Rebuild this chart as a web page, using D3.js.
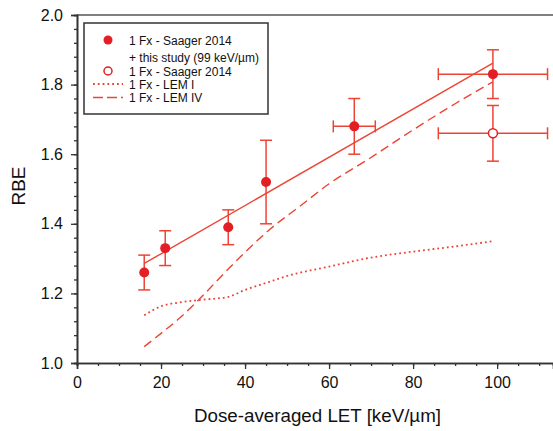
<!DOCTYPE html>
<html>
<head>
<meta charset="utf-8">
<script src="https://cdn.jsdelivr.net/npm/d3@7"></script>
<style>
  body { margin: 0; background: #fff; }
  svg { display: block; font-family: "Liberation Sans", Arial, sans-serif; }
</style>
</head>
<body>
<svg width="553" height="431"></svg>
<script>
// measured RBE points (filled: Saager 2014 + this study)
var filled = [
  {x: 16, y: 1.26, ylo: 1.21, yhi: 1.31},
  {x: 21, y: 1.33, ylo: 1.28, yhi: 1.38},
  {x: 36, y: 1.39, ylo: 1.34, yhi: 1.44},
  {x: 45, y: 1.52, ylo: 1.40, yhi: 1.64},
  {x: 66, y: 1.68, ylo: 1.60, yhi: 1.76, xlo: 61, xhi: 71},
  {x: 99, y: 1.83, ylo: 1.76, yhi: 1.90, xlo: 86, xhi: 112}
];
var open = [
  {x: 99, y: 1.66, ylo: 1.58, yhi: 1.74, xlo: 86, xhi: 112}
];
// linear fit through filled points
var fitLine = [[16, 1.286], [99, 1.862]];
// LEM I (dotted)
var lem1 = [[16, 1.137], [20, 1.163], [25, 1.175], [30, 1.182], [36, 1.19], [40, 1.21],
            [45, 1.23], [50, 1.25], [60, 1.277], [70, 1.303], [80, 1.32], [90, 1.335], [99, 1.35]];
// LEM IV (dashed)
var lem4 = [[16, 1.047], [20, 1.085], [24.5, 1.13], [28.5, 1.176], [36, 1.27], [41, 1.33],
            [46, 1.385], [53, 1.45], [60, 1.515], [69, 1.583], [80, 1.67], [90, 1.745], [99, 1.808]];

var xTicks = [0, 20, 40, 60, 80, 100];
var yTicks = [1.0, 1.2, 1.4, 1.6, 1.8, 2.0];

var svg = d3.select("svg");
var margin = {left: 77, top: 15};
var w = 476, h = 348;

var x = d3.scaleLinear().domain([0, 113.3]).range([margin.left, margin.left + w]);
var y = d3.scaleLinear().domain([1.0, 2.0]).range([margin.top + h, margin.top]);

var axisCol = "#333";
var red = "#ec4434";
var ptRed = "#e31e24";

// top frame
svg.append("line")
  .attr("x1", x(0)).attr("x2", margin.left + w)
  .attr("y1", y(2)).attr("y2", y(2))
  .attr("stroke", "#555").attr("stroke-width", 1.6);

// x axis
var xMinor = d3.range(0, 114, 5);
var xAxis = svg.append("g").attr("transform", "translate(0," + y(1) + ")");
xAxis.append("g").call(d3.axisBottom(x).tickValues(xMinor).tickSize(3).tickFormat(""));
xAxis.append("g").call(d3.axisBottom(x).tickValues(xTicks).tickSize(6).tickPadding(8).tickFormat(d3.format("d")));

// y axis
var yMinor = d3.range(1.0, 2.001, 0.04);
var yAxis = svg.append("g").attr("transform", "translate(" + x(0) + ",0)");
yAxis.append("g").call(d3.axisLeft(y).tickValues(yMinor).tickSize(3).tickFormat(""));
yAxis.append("g").call(d3.axisLeft(y).tickValues(yTicks).tickSize(6).tickPadding(8).tickFormat(d3.format(".1f")));

svg.selectAll(".domain").attr("stroke", axisCol).attr("stroke-width", 1.6);
svg.selectAll(".tick line").attr("stroke", axisCol).attr("stroke-width", 1.3);
svg.selectAll(".tick text").attr("font-size", 16).attr("fill", "#111")
  .attr("font-family", "Liberation Sans, Arial, sans-serif");

// axis titles
svg.append("text")
  .attr("x", 194).attr("y", 422)
  .attr("font-size", 17.5).attr("fill", "#111")
  .attr("textLength", 247).attr("lengthAdjust", "spacingAndGlyphs")
  .text("Dose-averaged LET [keV/µm]");
svg.append("text")
  .attr("transform", "translate(25,186) rotate(-90)")
  .attr("text-anchor", "middle")
  .attr("font-size", 19).attr("fill", "#111")
  .text("RBE");

var line = d3.line().x(d => x(d[0])).y(d => y(d[1]));
var smooth = d3.line().curve(d3.curveMonotoneX).x(d => x(d[0])).y(d => y(d[1]));

svg.append("path").datum(fitLine).attr("d", line)
  .attr("fill", "none").attr("stroke", red).attr("stroke-width", 1.4);
svg.append("path").datum(lem1).attr("d", smooth)
  .attr("fill", "none").attr("stroke", red).attr("stroke-width", 1.8)
  .attr("stroke-dasharray", "1.8,3");
svg.append("path").datum(lem4).attr("d", smooth)
  .attr("fill", "none").attr("stroke", red).attr("stroke-width", 1.4)
  .attr("stroke-dasharray", "9,5");

// error bars
function errorBars(data) {
  var g = svg.append("g").attr("stroke", red).attr("stroke-width", 1.5);
  data.forEach(function(d) {
    g.append("line").attr("x1", x(d.x)).attr("x2", x(d.x)).attr("y1", y(d.ylo)).attr("y2", y(d.yhi));
    [d.ylo, d.yhi].forEach(function(v) {
      g.append("line").attr("x1", x(d.x) - 6).attr("x2", x(d.x) + 6).attr("y1", y(v)).attr("y2", y(v));
    });
    if (d.xlo != null) {
      g.append("line").attr("x1", x(d.xlo)).attr("x2", x(d.xhi)).attr("y1", y(d.y)).attr("y2", y(d.y));
      [d.xlo, d.xhi].forEach(function(v) {
        g.append("line").attr("x1", x(v)).attr("x2", x(v)).attr("y1", y(d.y) - 6).attr("y2", y(d.y) + 6);
      });
    }
  });
}
errorBars(filled);
errorBars(open);

svg.append("g").selectAll("circle").data(filled).enter().append("circle")
  .attr("cx", d => x(d.x)).attr("cy", d => y(d.y)).attr("r", 5)
  .attr("fill", ptRed);
svg.append("g").selectAll("circle").data(open).enter().append("circle")
  .attr("cx", d => x(d.x)).attr("cy", d => y(d.y)).attr("r", 4.5)
  .attr("fill", "#fff").attr("stroke", ptRed).attr("stroke-width", 1.5);

// legend
var lg = svg.append("g");
lg.append("rect").attr("x", 84).attr("y", 23).attr("width", 184).attr("height", 91)
  .attr("fill", "#fff").attr("stroke", "#333").attr("stroke-width", 1.5);
var legendItems = [
  {label: "1 Fx - Saager 2014", y: 40, sym: "filled"},
  {label: "+ this study (99 keV/µm)", y: 57, sym: null},
  {label: "1 Fx - Saager 2014", y: 71, sym: "open"},
  {label: "1 Fx - LEM I", y: 84, sym: "dot"},
  {label: "1 Fx - LEM IV", y: 97.5, sym: "dash"}
];
legendItems.forEach(function(d) {
  lg.append("text").attr("x", 129).attr("y", d.y + 4.5).attr("font-size", 12)
    .attr("fill", "#111").text(d.label);
  if (d.sym === "filled") {
    lg.append("circle").attr("cx", 108).attr("cy", d.y).attr("r", 4.5).attr("fill", ptRed);
  } else if (d.sym === "open") {
    lg.append("circle").attr("cx", 108).attr("cy", d.y).attr("r", 4).attr("fill", "#fff")
      .attr("stroke", ptRed).attr("stroke-width", 1.5);
  } else if (d.sym === "dot") {
    lg.append("line").attr("x1", 93).attr("x2", 123).attr("y1", d.y).attr("y2", d.y)
      .attr("stroke", red).attr("stroke-width", 1.8).attr("stroke-dasharray", "1.8,3");
  } else if (d.sym === "dash") {
    lg.append("line").attr("x1", 93).attr("x2", 123).attr("y1", d.y).attr("y2", d.y)
      .attr("stroke", red).attr("stroke-width", 1.4).attr("stroke-dasharray", "10,4");
  }
});
</script>
</body>
</html>
